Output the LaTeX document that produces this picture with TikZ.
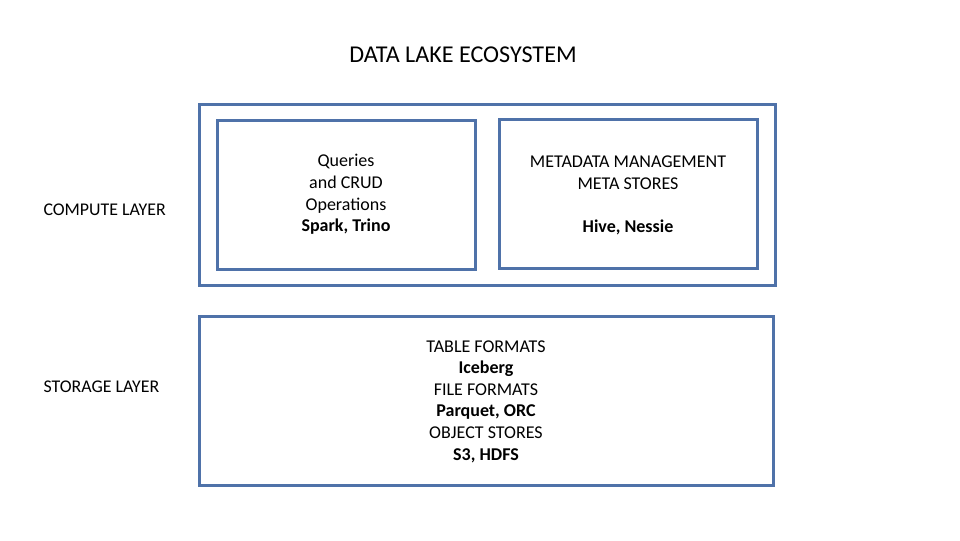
\documentclass[tikz,border=0pt]{standalone}
\usepackage{fontspec}
\setmainfont{Carlito}
\usepackage{tikz}
\definecolor{boxblue}{RGB}{79,114,169}
\tikzset{every picture/.style={line width=0.75pt}}
\tikzset{
  layerbox/.style={draw=boxblue, line width=2.25pt},
  boxtext/.style={inner sep=0.75pt, align=center, font=\fontsize{13.5}{16.2}\selectfont},
  layertext/.style={inner sep=0.75pt, anchor=west, font=\fontsize{13.4}{16}\selectfont}
}

\begin{document}
\begin{tikzpicture}[x=0.75pt,y=0.75pt,yscale=-1,xscale=1]
\useasboundingbox (0,0) rectangle (960,540);

%Shape: Rectangle [id:compute]
\draw [layerbox] (199,104) rectangle (775,285);
%Shape: Rectangle [id:queries]
\draw [layerbox] (217,120) rectangle (475,269);
%Shape: Rectangle [id:metadata]
\draw [layerbox] (499,119) rectangle (757,268);
%Shape: Rectangle [id:storage]
\draw [layerbox] (199,316) rectangle (773,485);

% Text Node
\node (title) at (463,54.5) [inner sep=0.75pt] [font=\fontsize{18.1}{21}\selectfont] {DATA LAKE ECOSYSTEM};
% Text Node
\node (computelbl) at (42,209.5) [layertext] {COMPUTE LAYER};
% Text Node
\node (storagelbl) at (42,386.5) [layertext] {STORAGE LAYER};
% Text Node
\node (querytxt) at (346,194.5) [boxtext] {Queries\\and CRUD\\Operations\\\textbf{Spark, Trino}};
% Text Node
\node (metatxt) at (628,195.5) [boxtext] {METADATA MANAGEMENT\\META STORES\\[16.2pt]\textbf{Hive, Nessie}};
% Text Node
\node (storetxt) at (486,401.5) [boxtext] {TABLE FORMATS\\\textbf{Iceberg}\\FILE FORMATS\\\textbf{Parquet, ORC}\\OBJECT STORES\\\textbf{S3, HDFS}};

\end{tikzpicture}
\end{document}
